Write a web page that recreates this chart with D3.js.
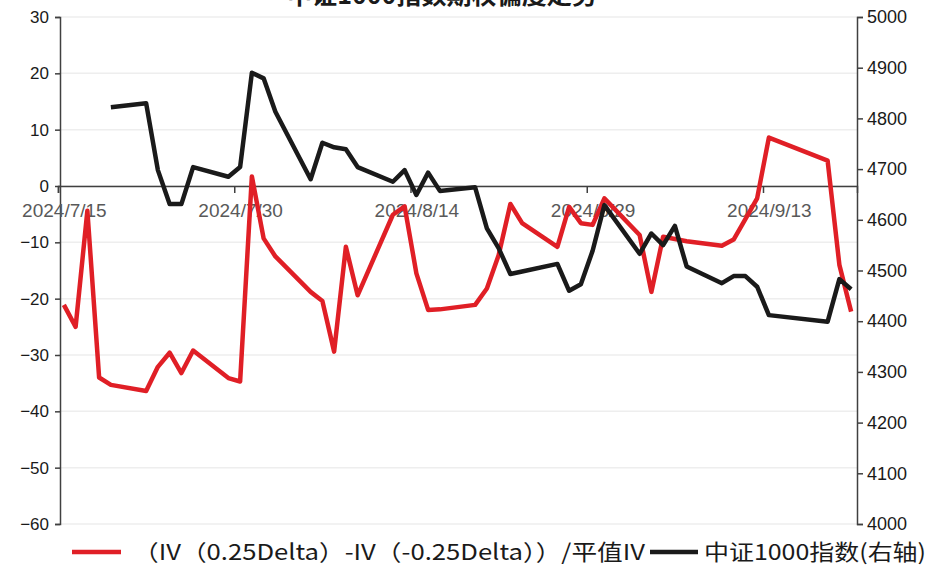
<!DOCTYPE html>
<html>
<head>
<meta charset="utf-8">
<script src="https://cdn.jsdelivr.net/npm/d3@7"></script>
<style>
  body { margin: 0; background: #fff; }
  svg { display: block; font-family: "Liberation Sans", "DejaVu Sans", sans-serif; }
</style>
</head>
<body>
<div id="chart"></div>
<script>
// trading days
const dates = [
  "2024-07-15","2024-07-16","2024-07-17","2024-07-18","2024-07-19",
  "2024-07-22","2024-07-23","2024-07-24","2024-07-25","2024-07-26",
  "2024-07-29","2024-07-30","2024-07-31","2024-08-01","2024-08-02",
  "2024-08-05","2024-08-06","2024-08-07","2024-08-08","2024-08-09",
  "2024-08-12","2024-08-13","2024-08-14","2024-08-15","2024-08-16",
  "2024-08-19","2024-08-20","2024-08-21","2024-08-22","2024-08-23",
  "2024-08-26","2024-08-27","2024-08-28","2024-08-29","2024-08-30",
  "2024-09-02","2024-09-03","2024-09-04","2024-09-05","2024-09-06",
  "2024-09-09","2024-09-10","2024-09-11","2024-09-12","2024-09-13",
  "2024-09-18","2024-09-19","2024-09-20"
];

// skew: (IV(0.25D) - IV(-0.25D)) / ATM IV, in %
const skew = [
  -21.1, -25.0, -4.4, -34.0, -35.3,
  -36.4, -32.1, -29.6, -33.2, -29.2,
  -34.1, -34.7, 1.7, -9.3, -12.5,
  -18.8, -20.4, -29.4, -10.8, -19.4,
  -5.1, -3.6, -15.5, -22.0, -21.9,
  -21.1, -18.2, -12.3, -3.2, -6.6,
  -10.8, -3.7, -6.6, -6.9, -2.2,
  -8.7, -18.8, -9.0, -9.4, -9.8,
  -10.6, -9.5, -5.9, -2.2, 8.6,
  4.5, -14.0, -22.3
];

// CSI 1000 index (right axis)
const csi1000 = [
  null, null, null, null, 4822,
  4830, 4698, 4631, 4631, 4704,
  4685, 4704, 4890, 4879, 4813,
  4680, 4752, 4743, 4739, 4704,
  4675, 4698, 4649, 4693, 4657,
  4664, 4583, 4544, 4493, 4498,
  4513, 4460, 4473, 4539, 4629,
  4533, 4573, 4550, 4588, 4508,
  4475, 4489, 4489, 4468, 4412,
  4399, 4483, 4463
];

const xTicks = ["2024-07-15", "2024-07-30", "2024-08-14", "2024-08-29", "2024-09-13"];
const leftTicks = [30, 20, 10, 0, -10, -20, -30, -40, -50, -60];
const rightTicks = [5000, 4900, 4800, 4700, 4600, 4500, 4400, 4300, 4200, 4100, 4000];

const title = "中证1000指数期权偏度走势";
const legendLabels = ["（IV（0.25Delta）-IV（-0.25Delta））/平值IV", "中证1000指数(右轴)"];
const colors = ["#e01f26", "#1a1a1a"];

const width = 948, height = 570;
const margin = { top: 17, right: 91, bottom: 46, left: 58 };

const parse = d3.timeParse("%Y-%m-%d");
const halfDay = 12 * 3600 * 1000;
const rows = dates.map((d, i) => ({ date: parse(d), skew: skew[i], idx: csi1000[i] }));

const svg = d3.select("#chart").append("svg")
  .attr("width", width)
  .attr("height", height);

const x = d3.scaleTime()
  .domain([parse("2024-07-15"), parse("2024-09-21")])
  .range([margin.left, width - margin.right]);

const yL = d3.scaleLinear()
  .domain([-60, 30])
  .range([height - margin.bottom, margin.top]);

const yR = d3.scaleLinear()
  .domain([4000, 5000])
  .range([height - margin.bottom, margin.top]);

// gridlines
svg.append("g")
  .selectAll("line")
  .data(leftTicks)
  .join("line")
  .attr("x1", margin.left)
  .attr("x2", width - margin.right)
  .attr("y1", d => yL(d))
  .attr("y2", d => yL(d))
  .attr("stroke", "#eeeeee")
  .attr("stroke-width", 1.5);

// left axis
const gl = svg.append("g")
  .attr("transform", `translate(${margin.left + 2},0)`)
  .call(d3.axisLeft(yL).tickValues(leftTicks).tickSize(5).tickPadding(6).tickFormat(d3.format("d")));
gl.select(".domain").attr("stroke", "#404040").attr("stroke-width", 1.5);
gl.selectAll(".tick line").attr("stroke", "#404040").attr("stroke-width", 1.5);
gl.selectAll("text").attr("font-size", 17).attr("fill", "#1a1a1a");

// right axis
const gr = svg.append("g")
  .attr("transform", `translate(${width - margin.right},0)`)
  .call(d3.axisRight(yR).tickValues(rightTicks).tickSize(6).tickPadding(4).tickFormat(d3.format("d")));
gr.select(".domain").attr("stroke", "#404040").attr("stroke-width", 1.5);
gr.selectAll(".tick line").attr("stroke", "#404040").attr("stroke-width", 1.5);
gr.selectAll("text").attr("font-size", 18).attr("fill", "#1a1a1a");

// x axis on zero line
const gx = svg.append("g")
  .attr("transform", `translate(0,${yL(0)})`)
  .call(d3.axisBottom(x)
    .tickValues(xTicks.map(parse))
    .tickSize(7)
    .tickFormat(d3.timeFormat("%Y/%-m/%-d")));
gx.select(".domain").attr("stroke", "#404040").attr("stroke-width", 1.5);
gx.selectAll(".tick line").attr("stroke", "#404040").attr("stroke-width", 1.5);
gx.selectAll("text")
  .attr("x", x(parse("2024-07-15").getTime() + halfDay) - x(parse("2024-07-15")))
  .attr("y", 18)
  .attr("font-size", 19)
  .attr("fill", "#595959");

// lines
const lineSkew = d3.line()
  .x(d => x(d.date.getTime() + halfDay))
  .y(d => yL(d.skew));

const lineIdx = d3.line()
  .defined(d => d.idx != null)
  .x(d => x(d.date.getTime() + halfDay))
  .y(d => yR(d.idx));

svg.append("path")
  .datum(rows)
  .attr("fill", "none")
  .attr("stroke", colors[0])
  .attr("stroke-width", 4.5)
  .attr("stroke-linejoin", "round")
  .attr("d", lineSkew);

svg.append("path")
  .datum(rows)
  .attr("fill", "none")
  .attr("stroke", colors[1])
  .attr("stroke-width", 4.5)
  .attr("stroke-linejoin", "round")
  .attr("d", lineIdx);

// title (cut off at the top as in the source)
svg.append("text")
  .attr("x", 442)
  .attr("y", 4)
  .attr("text-anchor", "middle")
  .attr("font-family", "Noto Sans CJK SC")
  .attr("font-size", 25)
  .attr("font-weight", "bold")
  .attr("fill", "#1a1a1a")
  .attr("textLength", 310)
  .attr("lengthAdjust", "spacingAndGlyphs")
  .text(title);

// legend
const legend = [
  { x1: 72, x2: 121, tx: 133, tl: 512 },
  { x1: 650, x2: 698, tx: 704, tl: 222 }
];
legend.forEach((l, i) => {
  svg.append("line")
    .attr("x1", l.x1).attr("x2", l.x2)
    .attr("y1", 552).attr("y2", 552)
    .attr("stroke", colors[i])
    .attr("stroke-width", 4.5);
  svg.append("text")
    .attr("x", l.tx)
    .attr("y", 560)
    .attr("font-family", "Noto Sans CJK SC")
    .attr("font-size", 22)
    .attr("fill", "#1a1a1a")
    .attr("textLength", l.tl)
    .attr("lengthAdjust", "spacingAndGlyphs")
    .text(legendLabels[i]);
});
</script>
</body>
</html>
